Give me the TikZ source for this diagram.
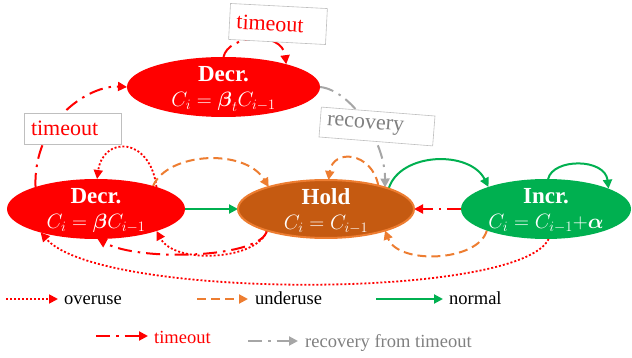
\documentclass[tikz,border=0pt]{standalone}
\usepackage{fontspec}
\setmainfont{Liberation Serif}
\usepackage{amsmath}
\usetikzlibrary{shapes.geometric,arrows.meta}
\definecolor{cred}{HTML}{FF0000}
\definecolor{cgreen}{HTML}{00B050}
\definecolor{chold}{HTML}{C55A11}
\definecolor{corange}{HTML}{ED7D31}
\definecolor{cgray}{HTML}{A6A6A6}
\definecolor{cgraytext}{HTML}{808080}
\definecolor{cbox}{HTML}{BFBFBF}
\pgfdeclarelayer{bg}\pgfsetlayers{bg,main}
\tikzset{
 stnode/.style={ellipse, inner sep=0pt, outer sep=0pt},
 statetext/.style={text=white, align=center, font=\fontsize{20}{25}\selectfont, inner sep=0pt},
 arrowtip/.style={-{Triangle[length=9pt,width=9pt]}},
 eover/.style={arrowtip, cred, line width=1.8pt, dash pattern=on 2pt off 2pt},
 eunder/.style={arrowtip, corange, line width=2pt, dash pattern=on 9pt off 5pt},
 enormal/.style={arrowtip, cgreen, line width=2pt},
 etimeout/.style={arrowtip, cred, line width=2pt, dash pattern=on 14pt off 6pt on 2.5pt off 6pt},
 erecov/.style={arrowtip, cgray, line width=2pt, dash pattern=on 14pt off 6pt on 2.5pt off 6pt},
 lblbox/.style={draw=cbox, line width=0.6pt, fill=white, inner xsep=7pt, inner ysep=0pt, align=left, font=\fontsize{22}{24}\selectfont},
 legtext/.style={anchor=base west, inner sep=0pt, font=\fontsize{18.5}{20}\selectfont},
}
\newcommand\sttitle[1]{{\fontsize{23}{25}\selectfont\bfseries #1}}
\begin{document}
\begin{tikzpicture}[x=1pt,y=-1pt]
\useasboundingbox (0,0) rectangle (632,358);
% states
\node[stnode, fill=cred, minimum width=193pt, minimum height=60pt,
  label={[statetext, yshift=-2pt]center:{\sttitle{Decr.}\\$C_i=\boldsymbol{\beta}_t C_{i-1}$}}] (Dt) at (223.5,87) {};
\node[stnode, fill=cred, minimum width=178pt, minimum height=60pt,
  label={[statetext, yshift=-2pt]center:{\sttitle{Decr.}\\$C_i=\boldsymbol{\beta} C_{i-1}$}}] (D) at (96,209) {};
\node[stnode, fill=chold, draw=corange, line width=2pt, minimum width=176pt, minimum height=58pt,
  label={[statetext, yshift=-2pt]center:{\sttitle{Hold}\\$C_i=C_{i-1}$}}] (H) at (326,209) {};
\node[stnode, fill=cgreen, minimum width=170pt, minimum height=60pt,
  label={[statetext, yshift=-2pt]center:{\sttitle{Incr.}\\$C_i=C_{i-1}{+}\boldsymbol{\alpha}$}}] (I) at (546,209) {};
% edges
\begin{pgfonlayer}{bg}
\draw[etimeout] (Dt.90) .. controls (228,35) and (282,30) .. (Dt.20);
\draw[etimeout] (D.160) .. controls (33,120) and (90,85) .. (Dt.west);
\draw[erecov] (Dt.east) .. controls (350,90) and (385,140) .. (H.20);
\draw[eover] (D.20) .. controls (150,136) and (103,136) .. (D.88);
\draw[eunder] (D.22) .. controls (168,152) and (245,148) .. (H.159);
\draw[enormal] (D.east) -- (H.west);
\draw[etimeout] (H.200) .. controls (262,258) and (140,262) .. (D.273);
\draw[eover] (H.200) .. controls (258,260) and (175,265) .. (D.340);
\draw[eover] (I.275) .. controls (520,300) and (100,300) .. (D.203);
\draw[enormal] (H.18) .. controls (400,152) and (470,150) .. (I.159);
\draw[enormal] (I.86) .. controls (553,158) and (605,158) .. (I.18);
\draw[etimeout] (I.west) -- (H.east);
\draw[eunder] (H.24) .. controls (372,152) and (333,148) .. (H.85);
\draw[eunder] (I.200) .. controls (478,262) and (398,265) .. (H.340);
\end{pgfonlayer}
% edge labels
\node[lblbox, text=cred, minimum width=97pt, minimum height=36pt, text width=83pt, rotate=-3] (lt1) at (278,24) {timeout};
\node[lblbox, text=cred, minimum width=97pt, minimum height=31pt, text width=83pt] (lt2) at (72.5,128.5) {timeout};
\node[lblbox, text=cgraytext, minimum width=114pt, minimum height=30pt, text width=100pt, rotate=-4.5] (lr) at (377,126.5) {recovery};
% legend
\coordinate (o1) at (6,299); \coordinate (o2) at (58,299);
\draw[eover] (o1) -- (o2);
\node[legtext] (ot) at (64,305) {overuse};
\coordinate (u1) at (197,299); \coordinate (u2) at (248,299);
\draw[eunder] (u1) -- (u2);
\node[legtext] (ut) at (255,305) {underuse};
\coordinate (n1) at (376,299); \coordinate (n2) at (443,299);
\draw[enormal] (n1) -- (n2);
\node[legtext] (nt) at (449,305) {normal};
\coordinate (t1) at (96,336); \coordinate (t2) at (148,336);
\draw[etimeout] (t1) -- (t2);
\node[legtext, text=cred] (tt) at (154,343) {timeout};
\coordinate (r1) at (248,341); \coordinate (r2) at (298,341);
\draw[erecov] (r1) -- (r2);
\node[legtext, text=cgraytext] (rt) at (305,347) {recovery from timeout};
\end{tikzpicture}
\end{document}
